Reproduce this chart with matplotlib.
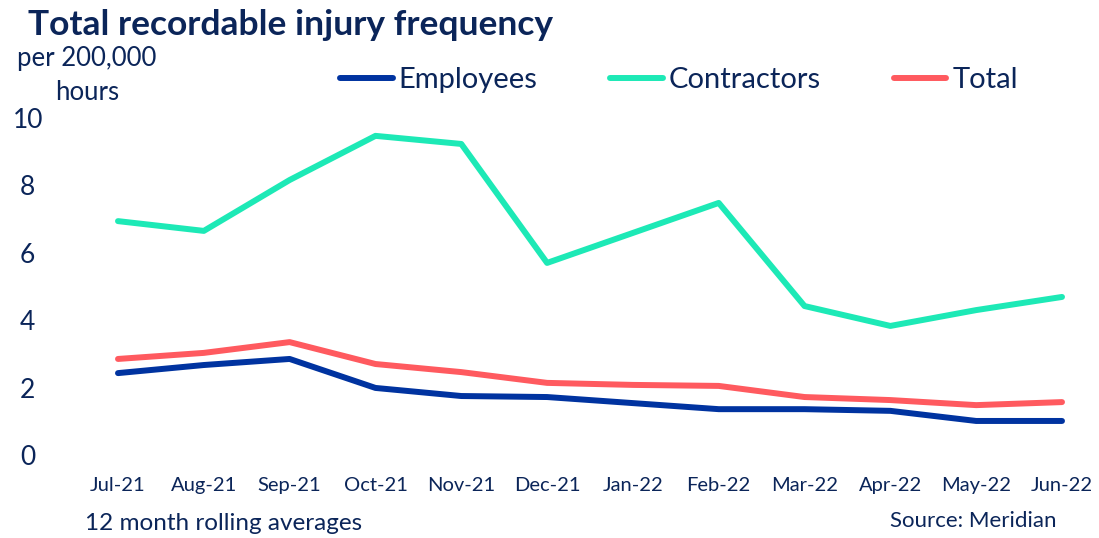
import matplotlib.pyplot as plt

months = ["Jul-21", "Aug-21", "Sep-21", "Oct-21", "Nov-21", "Dec-21",
          "Jan-22", "Feb-22", "Mar-22", "Apr-22", "May-22", "Jun-22"]
employees = [2.43, 2.67, 2.85, 1.99, 1.75, 1.72, 1.54, 1.36, 1.36, 1.31, 1.01, 1.01]
contractors = [6.94, 6.65, 8.16, 9.47, 9.23, 5.70, 6.59, 7.48, 4.42, 3.83, 4.30, 4.69]
total = [2.85, 3.03, 3.35, 2.70, 2.46, 2.14, 2.08, 2.05, 1.72, 1.63, 1.48, 1.57]
yticks = [0, 2, 4, 6, 8, 10]

NAVY = "#0b2559"
plt.rcParams['font.family'] = ['Lato', 'DejaVu Sans']

fig = plt.figure(figsize=(10.99, 5.38), dpi=100)
ax = fig.add_axes([118 / 1099, 83 / 538, 944 / 1099, 337 / 538])

x = range(len(months))
ax.plot(x, employees, color="#0033a0", lw=4.3, label="Employees", clip_on=False, solid_capstyle="round")
ax.plot(x, contractors, color="#1de9b6", lw=4.3, label="Contractors", clip_on=False, solid_capstyle="round")
ax.plot(x, total, color="#ff5a5f", lw=4.3, label="Total", clip_on=False, solid_capstyle="round")

ax.set_xlim(0, 11)
ax.set_ylim(0, 10)
ax.set_xticks(list(x))
ax.set_xticklabels(months)
ax.set_yticks(yticks)
ax.tick_params(axis="x", length=0, pad=16, labelsize=14.5, labelcolor=NAVY)
ax.tick_params(axis="y", length=0, pad=65, labelsize=19, labelcolor=NAVY)
for lbl in ax.get_yticklabels():
    lbl.set_horizontalalignment("center")
for s in ax.spines.values():
    s.set_visible(False)

# titles and notes
fig.text(28 / 1099, 1 - 25 / 538, "Total recordable injury frequency", fontsize=25.5,
         fontweight="bold", color=NAVY, va="center", ha="left")
fig.text(87 / 1099, 1 - 75 / 538, "per 200,000\nhours", fontsize=18.5, color=NAVY,
         va="center", ha="center", linespacing=1.45)
fig.text(85 / 1099, 1 - 523 / 538, "12 month rolling averages", fontsize=17.5, color=NAVY,
         va="center", ha="left")
fig.text(1057 / 1099, 1 - 521 / 538, "Source: Meridian", fontsize=16, color=NAVY,
         va="center", ha="right")

fig.legend(loc="center", bbox_to_anchor=(679 / 1099, 1 - 80 / 538), ncol=3, frameon=False,
           fontsize=21, handlelength=1.8, columnspacing=2.5, handletextpad=0.2,
           labelcolor=NAVY)

fig.savefig("out.png", dpi=100)
